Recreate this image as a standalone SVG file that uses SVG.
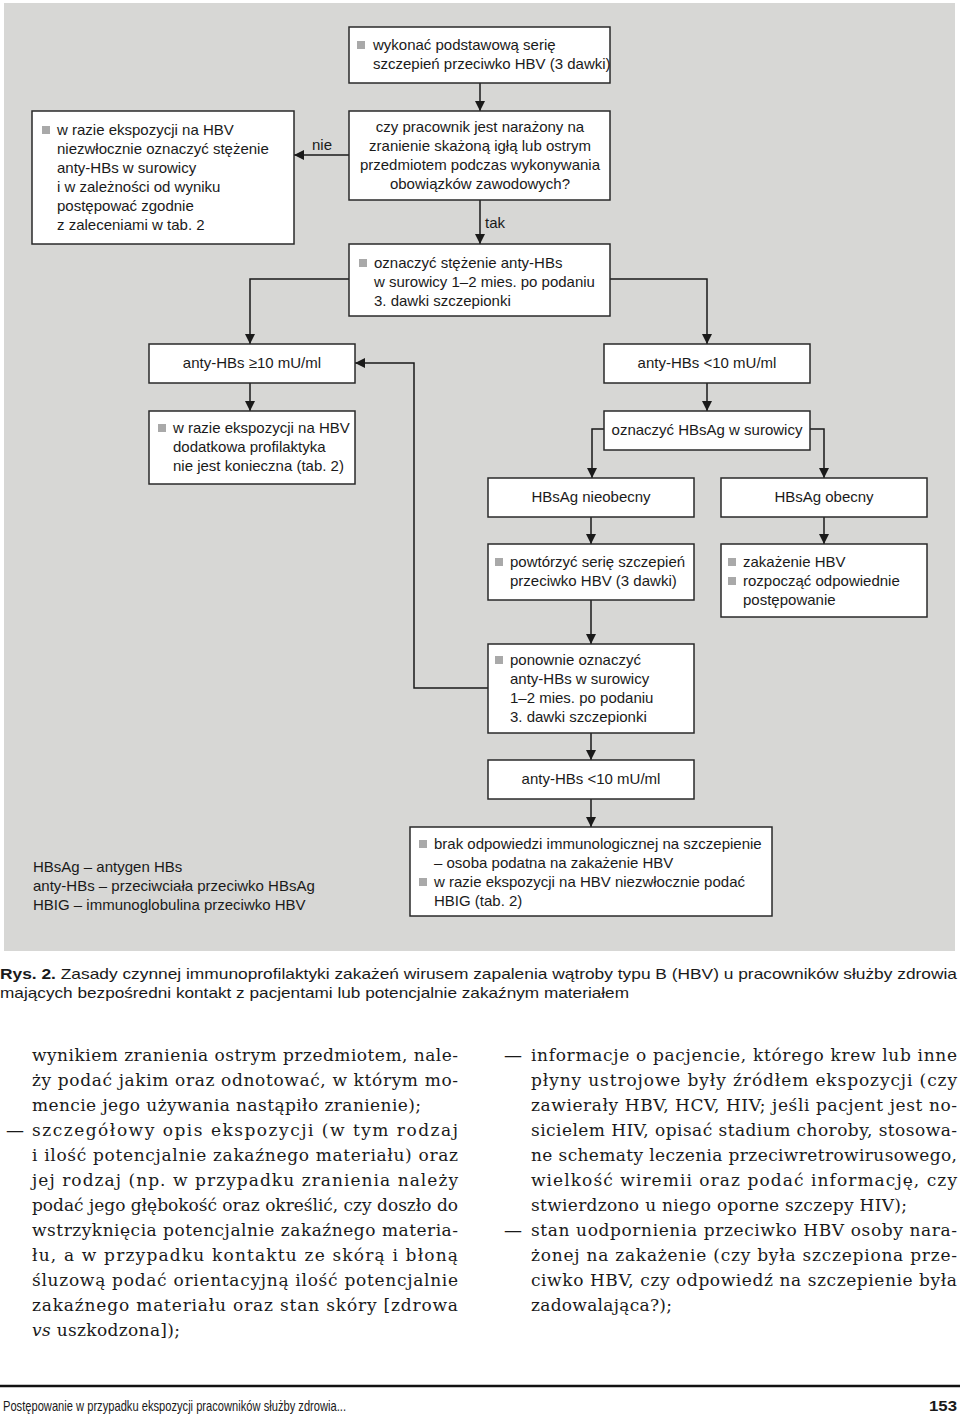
<svg xmlns="http://www.w3.org/2000/svg" width="960" height="1417" viewBox="0 0 960 1417">
<defs>
<style>
.bg{fill:#d7d7d5}
.box{fill:#fff;stroke:#2a2a2a;stroke-width:1.5}
.t{font-family:"Liberation Sans",Arial,sans-serif;font-size:15px;fill:#1a1a1a}
.c{text-anchor:middle}
.bul{fill:#a9a9a9}
.con{fill:none;stroke:#1a1a1a;stroke-width:1.5}
.body{font-family:"DejaVu Serif","Liberation Serif",serif;font-size:17px;fill:#1a1a1a}
</style>
<marker id="ah" viewBox="0 0 10 10" refX="10" refY="5" markerWidth="10" markerHeight="10" markerUnits="userSpaceOnUse" orient="auto">
<path d="M0,0 L10,5 L0,10 Z" fill="#1a1a1a"/>
</marker>
</defs>
<rect x="0" y="0" width="960" height="1417" fill="#fff"/>
<rect class="bg" x="4" y="3" width="951" height="948"/>

<g id="connectors">
<path class="con" d="M480,83 V111" marker-end="url(#ah)"/>
<path class="con" d="M349,155 H294" marker-end="url(#ah)"/>
<path class="con" d="M480,200 V244" marker-end="url(#ah)"/>
<path class="con" d="M349,279 H250 V344" marker-end="url(#ah)"/>
<path class="con" d="M610,279 H707 V344" marker-end="url(#ah)"/>
<path class="con" d="M250,383 V411" marker-end="url(#ah)"/>
<path class="con" d="M707,383 V411" marker-end="url(#ah)"/>
<path class="con" d="M604,429 H592 V478" marker-end="url(#ah)"/>
<path class="con" d="M810,429 H824 V478" marker-end="url(#ah)"/>
<path class="con" d="M591,517 V544" marker-end="url(#ah)"/>
<path class="con" d="M824,517 V544" marker-end="url(#ah)"/>
<path class="con" d="M591,600 V644" marker-end="url(#ah)"/>
<path class="con" d="M488,688 H414 V363 H355" marker-end="url(#ah)"/>
<path class="con" d="M591,733 V760" marker-end="url(#ah)"/>
<path class="con" d="M591,799 V827" marker-end="url(#ah)"/>
<text class="t" x="312" y="150">nie</text>
<text class="t" x="485" y="228">tak</text>
</g>

<g id="n-basic">
<rect class="box" x="349" y="27" width="261" height="56"/>
<rect class="bul" x="357" y="41" width="8" height="8"/>
<text class="t" x="373" y="50">wykonać podstawową serię</text>
<text class="t" x="373" y="69">szczepień przeciwko HBV (3 dawki)</text>
</g>

<g id="n-question">
<rect class="box" x="349" y="111" width="261" height="89"/>
<text class="t c" x="480" y="132">czy pracownik jest narażony na</text>
<text class="t c" x="480" y="151">zranienie skażoną igłą lub ostrym</text>
<text class="t c" x="480" y="170">przedmiotem podczas wykonywania</text>
<text class="t c" x="480" y="189">obowiązków zawodowych?</text>
</g>

<g id="n-no">
<rect class="box" x="32" y="111" width="262" height="133"/>
<rect class="bul" x="42" y="126" width="8" height="8"/>
<text class="t" x="57" y="135">w razie ekspozycji na HBV</text>
<text class="t" x="57" y="154">niezwłocznie oznaczyć stężenie</text>
<text class="t" x="57" y="173">anty-HBs w surowicy</text>
<text class="t" x="57" y="192">i w zależności od wyniku</text>
<text class="t" x="57" y="211">postępować zgodnie</text>
<text class="t" x="57" y="230">z zaleceniami w tab. 2</text>
</g>

<g id="n-measure">
<rect class="box" x="349" y="244" width="261" height="72"/>
<rect class="bul" x="359" y="259" width="8" height="8"/>
<text class="t" x="374" y="268">oznaczyć stężenie anty-HBs</text>
<text class="t" x="374" y="287">w surowicy 1–2 mies. po podaniu</text>
<text class="t" x="374" y="306">3. dawki szczepionki</text>
</g>

<g id="n-ge10">
<rect class="box" x="149" y="344" width="206" height="39"/>
<text class="t c" x="252" y="368">anty-HBs ≥10 mU/ml</text>
</g>

<g id="n-lt10">
<rect class="box" x="604" y="344" width="206" height="39"/>
<text class="t c" x="707" y="368">anty-HBs &lt;10 mU/ml</text>
</g>

<g id="n-noneed">
<rect class="box" x="149" y="411" width="206" height="73"/>
<rect class="bul" x="158" y="424" width="8" height="8"/>
<text class="t" x="173" y="433">w razie ekspozycji na HBV</text>
<text class="t" x="173" y="452">dodatkowa profilaktyka</text>
<text class="t" x="173" y="471">nie jest konieczna (tab. 2)</text>
</g>

<g id="n-hbsag">
<rect class="box" x="604" y="411" width="206" height="39"/>
<text class="t c" x="707" y="435">oznaczyć HBsAg w surowicy</text>
</g>

<g id="n-absent">
<rect class="box" x="488" y="478" width="206" height="39"/>
<text class="t c" x="591" y="502">HBsAg nieobecny</text>
</g>

<g id="n-present">
<rect class="box" x="721" y="478" width="206" height="39"/>
<text class="t c" x="824" y="502">HBsAg obecny</text>
</g>

<g id="n-repeat">
<rect class="box" x="488" y="544" width="206" height="56"/>
<rect class="bul" x="495" y="558" width="8" height="8"/>
<text class="t" x="510" y="567">powtórzyć serię szczepień</text>
<text class="t" x="510" y="586">przeciwko HBV (3 dawki)</text>
</g>

<g id="n-infected">
<rect class="box" x="721" y="544" width="206" height="73"/>
<rect class="bul" x="728" y="558" width="8" height="8"/>
<rect class="bul" x="728" y="577" width="8" height="8"/>
<text class="t" x="743" y="567">zakażenie HBV</text>
<text class="t" x="743" y="586">rozpocząć odpowiednie</text>
<text class="t" x="743" y="605">postępowanie</text>
</g>

<g id="n-remeasure">
<rect class="box" x="488" y="644" width="206" height="89"/>
<rect class="bul" x="495" y="656" width="8" height="8"/>
<text class="t" x="510" y="665">ponownie oznaczyć</text>
<text class="t" x="510" y="684">anty-HBs w surowicy</text>
<text class="t" x="510" y="703">1–2 mies. po podaniu</text>
<text class="t" x="510" y="722">3. dawki szczepionki</text>
</g>

<g id="n-lt10b">
<rect class="box" x="488" y="760" width="206" height="39"/>
<text class="t c" x="591" y="784">anty-HBs &lt;10 mU/ml</text>
</g>

<g id="n-noresponse">
<rect class="box" x="410" y="827" width="362" height="89"/>
<rect class="bul" x="419" y="840" width="8" height="8"/>
<rect class="bul" x="419" y="878" width="8" height="8"/>
<text class="t" x="434" y="849">brak odpowiedzi immunologicznej na szczepienie</text>
<text class="t" x="434" y="868">– osoba podatna na zakażenie HBV</text>
<text class="t" x="434" y="887">w razie ekspozycji na HBV niezwłocznie podać</text>
<text class="t" x="434" y="906">HBIG (tab. 2)</text>
</g>

<g id="legend">
<text class="t" x="33" y="872">HBsAg – antygen HBs</text>
<text class="t" x="33" y="891">anty-HBs – przeciwciała przeciwko HBsAg</text>
<text class="t" x="33" y="910">HBIG – immunoglobulina przeciwko HBV</text>
</g>

<g id="caption">
<text class="t" x="0" y="979" textLength="957" lengthAdjust="spacingAndGlyphs"><tspan font-weight="bold">Rys. 2.</tspan> Zasady czynnej immunoprofilaktyki zakażeń wirusem zapalenia wątroby typu B (HBV) u pracowników służby zdrowia</text>
<text class="t" x="0" y="998" textLength="629" lengthAdjust="spacingAndGlyphs">mających bezpośredni kontakt z pacjentami lub potencjalnie zakaźnym materiałem</text>
</g>

<g id="body-left">
<text class="body" x="32" y="1061" textLength="426" lengthAdjust="spacing">wynikiem zranienia ostrym przedmiotem, nale-</text>
<text class="body" x="32" y="1086" textLength="426" lengthAdjust="spacing">ży podać jakim oraz odnotować, w którym mo-</text>
<text class="body" x="32" y="1111" textLength="389" lengthAdjust="spacing">mencie jego używania nastąpiło zranienie);</text>
<text class="body" x="5" y="1136" textLength="20" lengthAdjust="spacingAndGlyphs">–</text>
<text class="body" x="32" y="1136" textLength="426" lengthAdjust="spacing">szczegółowy opis ekspozycji (w tym rodzaj</text>
<text class="body" x="32" y="1161" textLength="426" lengthAdjust="spacing">i ilość potencjalnie zakaźnego materiału) oraz</text>
<text class="body" x="32" y="1186" textLength="426" lengthAdjust="spacing">jej rodzaj (np. w przypadku zranienia należy</text>
<text class="body" x="32" y="1211" textLength="426" lengthAdjust="spacing">podać jego głębokość oraz określić, czy doszło do</text>
<text class="body" x="32" y="1236" textLength="426" lengthAdjust="spacing">wstrzyknięcia potencjalnie zakaźnego materia-</text>
<text class="body" x="32" y="1261" textLength="426" lengthAdjust="spacing">łu, a w przypadku kontaktu ze skórą i błoną</text>
<text class="body" x="32" y="1286" textLength="426" lengthAdjust="spacing">śluzową podać orientacyjną ilość potencjalnie</text>
<text class="body" x="32" y="1311" textLength="426" lengthAdjust="spacing">zakaźnego materiału oraz stan skóry [zdrowa</text>
<text class="body" x="32" y="1336" textLength="148" lengthAdjust="spacing"><tspan font-style="italic">vs</tspan> uszkodzona]);</text>
</g>

<g id="body-right">
<text class="body" x="503" y="1061" textLength="20" lengthAdjust="spacingAndGlyphs">–</text>
<text class="body" x="531" y="1061" textLength="426" lengthAdjust="spacing">informacje o pacjencie, którego krew lub inne</text>
<text class="body" x="531" y="1086" textLength="426" lengthAdjust="spacing">płyny ustrojowe były źródłem ekspozycji (czy</text>
<text class="body" x="531" y="1111" textLength="426" lengthAdjust="spacing">zawierały HBV, HCV, HIV; jeśli pacjent jest no-</text>
<text class="body" x="531" y="1136" textLength="426" lengthAdjust="spacing">sicielem HIV, opisać stadium choroby, stosowa-</text>
<text class="body" x="531" y="1161" textLength="426" lengthAdjust="spacing">ne schematy leczenia przeciwretrowirusowego,</text>
<text class="body" x="531" y="1186" textLength="426" lengthAdjust="spacing">wielkość wiremii oraz podać informację, czy</text>
<text class="body" x="531" y="1211" textLength="376" lengthAdjust="spacing">stwierdzono u niego oporne szczepy HIV);</text>
<text class="body" x="503" y="1236" textLength="20" lengthAdjust="spacingAndGlyphs">–</text>
<text class="body" x="531" y="1236" textLength="426" lengthAdjust="spacing">stan uodpornienia przeciwko HBV osoby nara-</text>
<text class="body" x="531" y="1261" textLength="426" lengthAdjust="spacing">żonej na zakażenie (czy była szczepiona prze-</text>
<text class="body" x="531" y="1286" textLength="426" lengthAdjust="spacing">ciwko HBV, czy odpowiedź na szczepienie była</text>
<text class="body" x="531" y="1311" textLength="141" lengthAdjust="spacing">zadowalająca?);</text>
</g>

<g id="footer">
<line x1="0" y1="1386" x2="960" y2="1386" stroke="#111" stroke-width="2.5"/>
<text class="t" x="3" y="1411" textLength="343" lengthAdjust="spacingAndGlyphs">Postępowanie w przypadku ekspozycji pracowników służby zdrowia...</text>
<text class="t" x="929" y="1411" font-weight="bold" font-size="17" textLength="28" lengthAdjust="spacingAndGlyphs">153</text>
</g>
</svg>
